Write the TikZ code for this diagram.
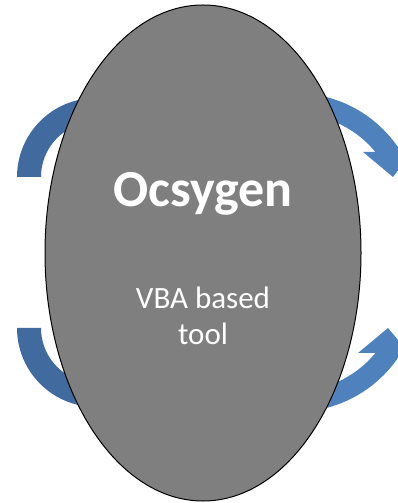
\documentclass[tikz,border=0pt]{standalone}
\usepackage{fontspec}
\setmainfont{Carlito}
\usetikzlibrary{shapes.geometric}
\definecolor{ocsgray}{RGB}{127,127,127}
\definecolor{darkarrow}{RGB}{65,106,158}
\definecolor{lightarrow}{RGB}{79,129,189}

\begin{document}
\begin{tikzpicture}[x=1pt,y=1pt]
  \tikzstyle{every ellipse node}=[draw,fill=ocsgray,line width=1pt,inner sep=0pt,minimum width=316pt,minimum height=496pt]
  \tikzstyle{title text}=[text=white,font=\bfseries\fontsize{52}{62}\selectfont,anchor=base]
  \tikzstyle{body text}=[text=white,font=\fontsize{31}{36}\selectfont,anchor=base]

  \useasboundingbox (0,0) rectangle (398,503);
  \clip (0,0) rectangle (398,503);

  % centres of the arrow arcs
  \coordinate (TL) at (96,326);
  \coordinate (BL) at (96,175);
  \coordinate (TR) at (295,285);
  \coordinate (BR) at (295,216);

  % left arrows
  \fill[darkarrow] (TL) ++(180:79) arc[start angle=180,end angle=70,radius=79]
    -- ++(70:-24) arc[start angle=70,end angle=180,radius=55] -- cycle;
  \fill[darkarrow] (BL) ++(180:79) arc[start angle=180,end angle=290,radius=79]
    -- ++(290:-24) arc[start angle=290,end angle=180,radius=55] -- cycle;

  % right arrows
  \fill[lightarrow] (TR) ++(100:125) arc[start angle=100,end angle=31.9,radius=125]
    -- (412,351) -- (393,326) -- (363,351) -- (375.4,351)
    arc[start angle=39.4,end angle=100,radius=104] -- cycle;
  \fill[lightarrow] (BR) ++(-100:125) arc[start angle=-100,end angle=-31.9,radius=125]
    -- (409,150) -- (388,175) -- (358,150) -- (375.4,150)
    arc[start angle=-39.4,end angle=-100,radius=104] -- cycle;

  \node[ellipse] (ocs) at (203,250) {};

  \node[title text] (name) at (203,296) {Ocsygen};
  \node[body text] (line1) at (203,194) {VBA based};
  \node[body text] (line2) at (203,158) {tool};

\end{tikzpicture}
\end{document}
